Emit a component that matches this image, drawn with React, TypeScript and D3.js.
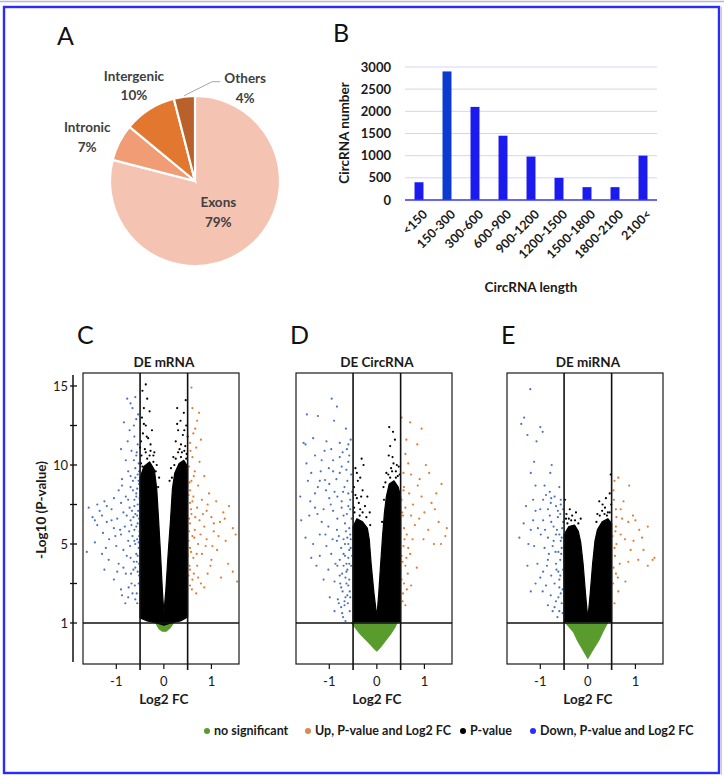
import React from 'react';
import * as d3 from 'd3';

const FONT = 'Lato, "Open Sans", sans-serif';

// ---------- Panel A data ----------
const pieCategories = ['Exons', 'Intronic', 'Intergenic', 'Others'];
const pieValues = [79, 7, 10, 4];
const pieColors = ['#f5c3b1', '#f09c74', '#e2772f', '#b9612a'];

// ---------- Panel B data ----------
const lengthBins = ['<150', '150-300', '300-600', '600-900', '900-1200', '1200-1500', '1500-1800', '1800-2100', '2100<'];
const circCounts = [400, 2900, 2100, 1450, 980, 500, 290, 290, 1000];
const barTicks = [0, 500, 1000, 1500, 2000, 2500, 3000];

// ---------- Volcano axes ----------
const yTickValues = [1, 5, 10, 15];
const yMinorTicks = [3, 7.5, 12.5];
const xTickValues = [-1, 0, 1];

// ---------- Volcano: DE mRNA ----------
const mrnaBlackArea: [number, number][] = [[-0.5, 1.25], [-0.5, 4], [-0.5, 7], [-0.5, 9.2], [-0.42, 9.9], [-0.3, 10.2], [-0.2, 9.7], [-0.15, 8.5], [-0.11, 6.5], [-0.07, 4.5], [-0.03, 2.6], [0, 1.5], [0.04, 2.6], [0.09, 4.5], [0.14, 6.5], [0.18, 8.5], [0.23, 9.5], [0.32, 10.1], [0.42, 10.3], [0.5, 9.9], [0.5, 7], [0.5, 4], [0.5, 1.3], [0.35, 1.1], [0.15, 1.0], [0, 0.95], [-0.15, 1.0], [-0.35, 1.1]];
const mrnaGreenArea: [number, number][] = [[-0.17, 1.0], [-0.1, 0.86], [-0.03, 0.8], [0.05, 0.8], [0.13, 0.88], [0.2, 1.0]];
const mrnaBlackDots: [number, number][] = [[-0.38, 15.1], [-0.45, 14.7], [-0.35, 14.2], [-0.42, 13.6], [-0.3, 13.4], [-0.46, 13.0], [-0.38, 12.5], [-0.25, 12.2], [-0.44, 12.0], [-0.33, 11.7], [-0.48, 11.5], [-0.28, 11.3], [-0.4, 11.0], [-0.2, 10.8], [-0.47, 10.6], [-0.3, 10.6], [-0.15, 10.0], [-0.22, 10.2], [0.28, 13.6], [0.46, 14.1], [0.42, 13.3], [0.35, 12.8], [0.47, 12.5], [0.3, 12.2], [0.4, 11.9], [0.25, 11.5], [0.45, 11.2], [0.33, 11.0], [0.2, 10.5], [0.38, 10.8], [0.48, 10.7], [0.15, 9.8], [0.22, 10.0], [-0.1, 9.2], [0.12, 9.0], [-0.45, 9.9], [-0.38, 10.8], [-0.28, 10.9], [-0.22, 10.6], [-0.17, 9.6], [-0.12, 8.6], [0.17, 9.2], [0.25, 10.4], [0.3, 10.8], [0.43, 10.9], [0.36, 11.3], [-0.5, 11.1], [-0.42, 12.6], [0.5, 11.8], [0.43, 12.2], [-0.36, 11.8], [0.28, 12.6], [-0.48, 10.1], [-0.35, 10.4], [0.47, 10.4], [0.36, 10.5]];
const mrnaDown: [number, number][] = [[-0.77, 14.2], [-0.6, 14.3], [-0.66, 13.6], [-0.84, 12.7], [-0.58, 12.9], [-0.72, 12.2], [-0.62, 11.8], [-0.55, 11.3], [-0.9, 11.0], [-0.68, 10.9], [-0.58, 10.6], [-0.8, 10.3], [-0.53, 10.1], [-0.6, 9.8], [-0.75, 9.6], [-0.55, 9.4], [-0.88, 9.1], [-0.65, 9.0], [-0.52, 8.8], [-0.7, 8.6], [-0.95, 8.4], [-0.58, 8.2], [-0.8, 8.0], [-1.05, 7.9], [-0.62, 7.8], [-0.9, 7.6], [-1.25, 7.7], [-0.55, 7.5], [-1.4, 7.5], [-0.72, 7.3], [-1.58, 7.3], [-1.1, 7.2], [-0.85, 7.0], [-0.6, 6.9], [-1.3, 6.8], [-1.5, 6.7], [-0.98, 6.6], [-0.7, 6.5], [-1.2, 6.4], [-0.55, 6.3], [-1.4, 6.2], [-0.82, 6.1], [-1.05, 6.0], [-0.62, 5.9], [-1.28, 5.7], [-0.9, 5.6], [-0.52, 5.5], [-1.15, 5.3], [-0.75, 5.2], [-1.45, 5.1], [-0.6, 5.0], [-1.0, 4.9], [-1.62, 4.6], [-0.85, 4.7], [-1.3, 4.5], [-0.55, 4.4], [-0.7, 4.3], [-1.16, 4.2], [-0.95, 4.0], [-0.6, 3.8], [-1.25, 3.7], [-0.8, 3.5], [-0.52, 3.4], [-1.05, 3.2], [-0.68, 3.0], [-0.9, 2.7], [-0.57, 2.5], [-0.75, 2.3], [-0.81, 2.0], [-0.6, 2.2], [-0.53, 9.0], [-0.56, 8.5], [-0.51, 7.9], [-0.54, 7.1], [-0.52, 6.6], [-0.58, 6.1], [-0.51, 5.8], [-0.56, 5.3], [-0.53, 4.8], [-0.58, 4.5], [-0.52, 4.0], [-0.55, 3.6], [-0.63, 4.1], [-0.66, 5.5], [-0.64, 6.7], [-0.67, 7.1], [-0.65, 8.4], [-0.6, 9.2], [-0.73, 5.8], [-0.78, 6.8], [-0.69, 3.5], [-0.61, 2.9], [-0.57, 10.8], [-0.63, 10.3], [-0.52, 9.6], [-0.7, 9.3], [-0.58, 8.0], [-0.62, 7.4], [-0.75, 7.8], [-0.56, 6.8], [-0.68, 6.2], [-0.53, 5.1], [-0.62, 5.2], [-0.71, 4.9], [-0.57, 4.1], [-0.64, 3.7], [-0.53, 3.0], [-0.74, 2.8], [-0.56, 2.0], [-0.66, 2.5], [-0.85, 3.8], [-0.78, 4.4], [-0.92, 5.9], [-1.1, 6.5], [-0.88, 8.7], [-0.76, 11.5], [-0.63, 12.5], [-0.54, 13.2], [-0.7, 13.9], [-1.35, 7.1], [-1.2, 7.4], [-1.45, 6.5], [-1.02, 5.5], [-1.22, 4.8], [-0.98, 3.6], [-0.88, 2.4]];
const mrnaUp: [number, number][] = [[0.58, 14.9], [0.74, 13.3], [0.7, 12.8], [0.62, 12.0], [0.55, 11.4], [0.68, 11.1], [0.6, 10.5], [0.75, 10.2], [0.53, 9.9], [0.65, 9.6], [0.85, 9.3], [0.58, 9.0], [0.72, 8.7], [0.55, 8.4], [0.95, 8.2], [0.62, 8.0], [0.8, 7.8], [1.1, 7.7], [0.55, 7.6], [1.37, 7.4], [0.7, 7.3], [0.9, 7.1], [1.25, 7.0], [0.58, 6.9], [1.0, 6.7], [0.75, 6.5], [1.18, 6.4], [0.55, 6.3], [0.85, 6.1], [1.45, 6.0], [0.65, 5.9], [1.05, 5.8], [1.51, 5.6], [0.6, 5.5], [0.9, 5.3], [1.3, 5.2], [0.72, 5.0], [0.55, 4.8], [1.12, 4.7], [0.8, 4.5], [0.62, 4.3], [1.0, 4.2], [1.35, 4.0], [0.7, 3.9], [0.55, 3.7], [0.92, 3.5], [1.54, 3.1], [0.6, 3.2], [0.78, 3.0], [1.2, 3.3], [0.59, 2.7], [0.68, 2.5], [0.85, 2.8], [1.45, 3.6], [0.53, 6.6], [0.52, 5.2], [0.51, 4.4], [0.57, 7.2], [0.54, 8.9], [0.52, 3.4], [0.56, 10.9], [0.63, 9.3], [0.52, 8.1], [0.6, 7.7], [0.66, 6.7], [0.53, 5.8], [0.64, 5.4], [0.57, 4.6], [0.69, 4.5], [0.54, 3.9], [0.63, 3.5], [0.55, 2.9], [0.72, 3.3], [0.77, 5.6], [0.82, 6.9], [0.88, 4.9], [1.05, 6.3], [1.15, 5.5], [0.98, 3.9], [1.28, 6.6], [0.66, 12.3], [0.6, 13.6], [0.78, 11.6], [0.92, 7.5], [1.02, 4.9]];

// ---------- Volcano: DE CircRNA ----------
const circBlackArea: [number, number][] = [[-0.5, 1.05], [-0.5, 4], [-0.5, 6.1], [-0.42, 6.6], [-0.3, 6.4], [-0.2, 6.0], [-0.16, 5.3], [-0.12, 4], [-0.06, 2.5], [0, 1.3], [0.04, 2.5], [0.08, 4], [0.12, 5.5], [0.16, 7], [0.2, 8.0], [0.26, 8.8], [0.36, 9.0], [0.45, 8.6], [0.5, 8.0], [0.5, 5], [0.5, 1.05]];
const circGreenArea: [number, number][] = [[-0.53, 1.0], [-0.36, 0.75], [-0.15, 0.5], [-0.04, 0.36], [0.0, 0.32], [0.08, 0.42], [0.3, 0.75], [0.38, 0.9], [0.42, 1.0]];
const circBlackDots: [number, number][] = [[0.26, 12.4], [0.34, 12.1], [0.28, 11.2], [0.33, 10.5], [-0.32, 10.4], [-0.42, 9.5], [-0.45, 9.8], [-0.35, 9.2], [-0.28, 10.0], [-0.4, 9.0], [-0.48, 8.6], [-0.3, 8.4], [-0.2, 8.0], [-0.42, 7.9], [-0.25, 7.4], [-0.48, 7.3], [-0.35, 7.2], [-0.15, 7.0], [0.42, 10.0], [0.3, 9.8], [0.46, 9.9], [0.2, 9.5], [0.4, 9.6], [0.48, 9.4], [0.14, 8.6], [0.25, 10.6], [0.38, 11.6], [-0.47, 7.0], [-0.38, 7.6], [-0.3, 7.0], [-0.22, 6.7], [-0.45, 8.1], [-0.33, 8.0], [0.18, 8.9], [0.24, 9.4], [0.32, 9.6], [0.44, 9.3], [0.15, 7.8], [0.11, 6.4], [-0.14, 6.2], [0.35, 10.1], [-0.36, 6.8], [0.4, 9.2], [0.28, 9.2]];
const circDown: [number, number][] = [[-0.95, 14.2], [-0.84, 13.7], [-1.47, 13.2], [-1.24, 13.1], [-1.54, 11.4], [-1.5, 11.3], [-1.34, 11.7], [-1.06, 11.5], [-0.78, 11.4], [-0.6, 11.3], [-0.63, 11.0], [-0.78, 10.5], [-0.92, 10.3], [-1.16, 10.3], [-0.74, 9.9], [-1.38, 9.5], [-1.01, 9.8], [-0.92, 9.6], [-0.78, 9.5], [-1.09, 9.05], [-1.2, 9.0], [-0.62, 9.0], [-1.24, 8.6], [-1.07, 8.4], [-0.89, 8.3], [-0.71, 8.3], [-1.61, 8.0], [-1.0, 7.9], [-0.83, 8.0], [-0.6, 8.2], [-1.3, 7.3], [-1.12, 7.2], [-0.92, 7.1], [-0.74, 7.3], [-0.6, 7.4], [-1.59, 6.5], [-1.42, 6.8], [-1.16, 6.4], [-1.02, 6.1], [-0.84, 5.9], [-0.67, 6.3], [-0.56, 5.6], [-1.2, 5.6], [-1.34, 5.0], [-1.06, 4.9], [-0.84, 5.2], [-0.67, 5.0], [-0.96, 4.5], [-1.2, 4.4], [-0.78, 4.2], [-0.64, 4.0], [-1.38, 4.3], [-1.27, 3.9], [-1.02, 3.7], [-0.83, 3.9], [-0.73, 3.5], [-0.62, 3.7], [-1.12, 3.2], [-0.89, 3.1], [-0.75, 2.8], [-0.64, 3.0], [-0.99, 2.3], [-0.82, 2.2], [-0.68, 2.1], [-0.61, 2.0], [-0.75, 1.8], [-0.71, 1.3], [-0.89, 1.6], [-0.55, 5.3], [-0.58, 4.7], [-0.7, 4.5], [-0.6, 4.3], [-0.66, 3.3], [-0.57, 2.6], [-0.72, 2.6], [-0.62, 2.4], [-0.68, 1.9], [-0.57, 1.6], [-0.78, 3.4], [-0.54, 3.9], [-0.75, 4.8], [-0.8, 5.5], [-0.65, 5.8], [-0.53, 6.6], [-0.7, 6.8], [-0.56, 7.8], [-0.68, 8.6], [-0.54, 9.4], [-0.6, 10.2], [-0.72, 10.8], [-0.55, 11.6], [-0.65, 12.3], [-1.45, 9.0], [-1.5, 5.4], [-1.3, 8.2], [-1.1, 10.9], [-0.9, 12.8], [-0.58, 3.2], [-0.66, 2.3], [-0.7, 3.9], [-0.6, 5.0], [-0.52, 4.4], [-0.56, 2.3], [-0.6, 2.9], [-0.64, 3.6], [-0.58, 4.0], [-0.67, 4.4], [-0.55, 4.8], [-0.62, 5.4], [-0.7, 5.3], [-0.58, 6.0], [-0.63, 6.9], [-0.56, 7.2], [-0.74, 7.7], [-0.52, 8.3], [-0.64, 9.7], [-0.58, 10.6], [-0.77, 3.0], [-0.8, 2.0], [-0.73, 1.5], [-0.66, 1.1], [-0.87, 4.0], [-0.93, 5.3], [-1.08, 5.6], [-0.83, 6.6], [-0.97, 7.5], [-1.25, 6.9], [-1.4, 7.7], [-1.0, 8.8], [-1.18, 9.6], [-0.85, 9.1], [-1.3, 10.6], [-1.48, 10.1], [-0.96, 11.0]];
const circUp: [number, number][] = [[0.52, 13.0], [0.94, 12.3], [0.85, 11.3], [0.6, 10.7], [0.66, 10.1], [1.03, 10.0], [1.1, 9.5], [0.72, 9.4], [0.57, 8.6], [1.36, 8.8], [0.86, 8.7], [0.52, 7.8], [0.68, 8.2], [0.94, 8.0], [1.15, 7.6], [0.6, 7.3], [0.72, 6.8], [0.89, 6.6], [1.22, 7.2], [1.47, 6.0], [1.08, 5.9], [0.63, 5.6], [1.44, 5.5], [1.2, 5.0], [1.35, 5.0], [0.98, 5.3], [0.56, 4.9], [0.66, 4.8], [0.52, 4.4], [0.6, 3.9], [0.84, 3.8], [0.72, 2.9], [0.63, 2.7], [0.55, 2.5], [0.6, 1.9], [0.52, 3.2], [0.56, 9.5], [0.56, 8.4], [0.57, 6.0], [0.55, 6.8], [0.62, 4.3], [0.75, 5.3], [0.53, 7.0], [0.58, 5.3], [0.54, 4.1], [0.65, 3.5], [0.57, 3.0], [0.7, 4.5], [0.8, 6.2], [0.76, 7.5], [0.9, 9.1], [1.25, 8.2], [1.3, 6.4], [1.0, 7.0], [0.62, 11.6], [0.7, 12.7], [0.54, 2.1]];

// ---------- Volcano: DE miRNA ----------
const mirBlackArea: [number, number][] = [[-0.5, 1.05], [-0.5, 4], [-0.5, 5.6], [-0.4, 6.1], [-0.28, 6.2], [-0.2, 5.8], [-0.15, 5.1], [-0.1, 4], [-0.05, 2.5], [0, 1.2], [0.05, 2.5], [0.1, 4], [0.15, 5.2], [0.2, 5.9], [0.3, 6.4], [0.42, 6.6], [0.5, 6.3], [0.5, 4], [0.5, 1.05]];
const mirGreenArea: [number, number][] = [[-0.46, 1.0], [-0.3, 0.78], [-0.22, 0.58], [-0.08, 0.3], [0.0, 0.14], [0.08, 0.3], [0.23, 0.58], [0.32, 0.8], [0.41, 1.0]];
const mirBlackDots: [number, number][] = [[-0.25, 7.0], [-0.43, 6.3], [0.24, 7.7], [0.31, 7.5], [0.36, 7.3], [0.48, 9.4], [-0.33, 6.8], [-0.15, 6.6], [0.42, 7.0], [0.2, 6.9], [-0.48, 7.8], [0.46, 8.2], [-0.38, 7.2], [-0.45, 6.9], [0.38, 7.9], [-0.46, 6.6], [-0.35, 6.5], [-0.27, 6.5], [-0.2, 6.3], [0.18, 6.4], [0.25, 6.8], [0.35, 6.9], [0.46, 7.0], [0.49, 7.5], [0.3, 7.1], [-0.4, 6.6], [0.4, 6.8]];
const mirDown: [number, number][] = [[-1.21, 14.8], [-1.34, 13.0], [-1.4, 12.6], [-1.0, 12.4], [-0.95, 12.1], [-1.27, 11.9], [-1.08, 11.5], [-1.13, 10.2], [-0.76, 10.0], [-1.2, 9.5], [-0.79, 9.5], [-0.91, 8.7], [-1.1, 8.7], [-0.94, 7.8], [-0.77, 7.9], [-1.3, 7.4], [-1.1, 7.1], [-0.84, 7.2], [-0.67, 7.4], [-0.57, 7.8], [-1.44, 5.4], [-0.94, 6.5], [-0.77, 6.4], [-0.63, 6.7], [-1.2, 5.9], [-0.99, 5.6], [-0.84, 5.4], [-0.67, 5.6], [-0.57, 5.2], [-1.13, 4.9], [-0.91, 4.8], [-0.74, 4.9], [-1.27, 3.9], [-1.06, 4.0], [-0.84, 4.2], [-0.67, 4.0], [-0.94, 3.6], [-0.77, 3.4], [-0.6, 3.2], [-1.2, 2.6], [-0.84, 1.9], [-0.67, 2.1], [-0.57, 2.5], [-0.64, 1.3], [-0.74, 1.6], [-1.1, 3.0], [-0.88, 2.9], [-0.54, 6.0], [-0.56, 4.5], [-0.52, 3.7], [-0.6, 2.8], [-0.55, 2.0], [-0.53, 1.5], [-0.62, 4.6], [-0.7, 3.0], [-0.58, 6.9], [-0.65, 5.9], [-0.52, 7.2], [-0.7, 8.0], [-0.6, 8.6], [-0.8, 8.3], [-0.72, 6.1], [-0.82, 4.5], [-0.78, 2.4], [-1.0, 3.3], [-1.05, 6.0], [-1.35, 6.3], [-1.15, 7.8], [-0.55, 5.4], [-0.62, 3.6], [-0.58, 4.2], [-0.53, 2.7], [-0.58, 3.4], [-0.55, 4.8], [-0.6, 5.6], [-0.52, 6.4], [-0.63, 7.1], [-0.68, 4.6], [-0.72, 5.2], [-0.66, 3.7], [-0.62, 2.3], [-0.7, 1.8], [-0.86, 3.9], [-0.9, 5.9], [-1.0, 7.2], [-1.15, 6.5], [-1.25, 5.0], [-0.95, 2.6], [-0.8, 6.8], [-0.57, 7.5], [-0.6, 1.6], [-0.78, 7.6], [-0.88, 8.1]];
const mirUp: [number, number][] = [[0.64, 9.2], [0.87, 8.7], [0.56, 9.0], [0.59, 7.2], [0.69, 7.2], [0.95, 6.8], [1.0, 6.5], [0.85, 6.4], [1.08, 5.9], [1.26, 6.1], [0.69, 5.6], [0.59, 6.1], [1.17, 4.7], [1.36, 4.2], [1.26, 3.9], [1.06, 4.2], [0.85, 4.1], [0.67, 4.0], [0.59, 3.5], [0.64, 2.6], [0.79, 3.1], [0.56, 2.0], [0.57, 4.4], [0.96, 5.2], [0.56, 4.8], [0.6, 6.7], [0.55, 7.8], [1.4, 4.3], [0.52, 5.5], [0.53, 3.0], [0.54, 8.4], [0.6, 5.0], [0.72, 6.6], [0.78, 5.3], [0.63, 3.3], [0.54, 3.8], [0.9, 4.7], [1.14, 5.4], [0.75, 7.7], [0.58, 5.8]];

// ---------- Legend ----------
const legendLabels = ['no significant', 'Up, P-value and Log2 FC', 'P-value', 'Down, P-value and Log2 FC'];
const legendColors = ['#5a9b2e', '#d98a4e', '#000000', '#2b2bff'];

// layout (not data)
const W = 724, H = 778;
const FRAME_TOP = 373, FRAME_H = 291, FRAME_W = 156;
const panels = [
  { letter: 'C', title: 'DE mRNA', left: 83, black: mrnaBlackArea, green: mrnaGreenArea, blackDots: mrnaBlackDots, down: mrnaDown, up: mrnaUp, yAxis: true },
  { letter: 'D', title: 'DE CircRNA', left: 296, black: circBlackArea, green: circGreenArea, blackDots: circBlackDots, down: circDown, up: circUp, yAxis: false },
  { letter: 'E', title: 'DE miRNA', left: 507, black: mirBlackArea, green: mirGreenArea, blackDots: mirBlackDots, down: mirDown, up: mirUp, yAxis: false },
];
const legendX = [207, 308, 463, 533];
const pieLabelR = [38, 112, 114, 0];
const pieLabelShift: [number, number][] = [[0, 0], [-8, 6], [0, 0], [0, 0]];

function PiePanel() {
  const cx = 195, cy = 181, r = 85;
  const pie = d3.pie<number>().sort(null).value((d) => d);
  const arcs = pie(pieValues);
  const arc = d3.arc<d3.PieArcDatum<number>>().innerRadius(0).outerRadius(r);
  const polar = (a: number, rr: number): [number, number] => [Math.sin(a) * rr, -Math.cos(a) * rr];
  return (
    <g>
      <text x={57} y={45} fontFamily={FONT} fontSize={25} fill="#111">A</text>
      <g transform={`translate(${cx},${cy})`}>
        {arcs.map((a, i) => (
          <path key={i} d={arc(a) || ''} fill={pieColors[i]} stroke="#fff" strokeWidth={2.2} />
        ))}
        {arcs.map((a, i) => {
          const mid = (a.startAngle + a.endAngle) / 2;
          if (i === 3) {
            const s = polar(mid, r + 1);
            const e1: [number, number] = [s[0] + 28, s[1] - 14];
            const e2: [number, number] = [e1[0] + 8, e1[1]];
            const tx = e2[0] + 25;
            return (
              <g key={i}>
                <polyline points={`${s[0]},${s[1]} ${e1[0]},${e1[1]} ${e2[0]},${e2[1]}`} fill="none" stroke="#a6a6a6" strokeWidth={1} />
                <text x={tx} y={e2[1]} textAnchor="middle" fontFamily={FONT} fontWeight={700} fontSize={13.5} fill="#404040">
                  <tspan x={tx} dy="0.1em">{pieCategories[i]}</tspan>
                  <tspan x={tx} dy="1.45em">{pieValues[i]}%</tspan>
                </text>
              </g>
            );
          }
          const p = polar(mid, pieLabelR[i]);
          const lx = p[0] + pieLabelShift[i][0];
          const ly = p[1] + pieLabelShift[i][1];
          return (
            <text key={i} x={lx} y={ly} textAnchor="middle" fontFamily={FONT} fontWeight={700} fontSize={13.5} fill="#404040">
              <tspan x={lx} dy="-0.3em">{pieCategories[i]}</tspan>
              <tspan x={lx} dy="1.45em">{pieValues[i]}%</tspan>
            </text>
          );
        })}
      </g>
    </g>
  );
}

function BarPanel() {
  const x = d3.scaleBand<string>().domain(lengthBins).range([405, 657]).paddingInner(0.68).paddingOuter(0.34);
  const y = d3.scaleLinear().domain([0, 3000]).range([200, 67]);
  return (
    <g fontFamily={FONT}>
      <text x={333} y={42} fontSize={25} fill="#111">B</text>
      {barTicks.filter((t) => t > 0).map((t) => (
        <line key={t} x1={405} x2={657} y1={y(t)} y2={y(t)} stroke="#d4d4f4" strokeWidth={1} />
      ))}
      {lengthBins.map((b, i) => (
        <rect key={b} x={x(b)} y={y(circCounts[i])} width={x.bandwidth()} height={y(0) - y(circCounts[i])} fill={i === 1 ? '#0c3bd2' : '#1b1bf0'} />
      ))}
      <line x1={405} x2={657} y1={y(0)} y2={y(0)} stroke="#3535f5" strokeWidth={1.5} />
      {barTicks.map((t) => (
        <text key={t} x={391} y={y(t)} dy="0.35em" textAnchor="end" fontSize={13} fontWeight={700} fill="#1a1a1a">{t}</text>
      ))}
      {lengthBins.map((b) => {
        const cxb = (x(b) || 0) + x.bandwidth() / 2;
        return (
          <text key={b} transform={`translate(${cxb + 6},${y(0) + 12}) rotate(-45)`} textAnchor="end" dy="0.35em" fontSize={12.5} fontWeight={700} fill="#1a1a1a">{b}</text>
        );
      })}
      <text transform="translate(349,133) rotate(-90)" textAnchor="middle" fontSize={13.5} fontWeight={700} fill="#1a1a1a">CircRNA number</text>
      <text x={531} y={292} textAnchor="middle" fontSize={13.5} fontWeight={700} fill="#1a1a1a">CircRNA length</text>
    </g>
  );
}

function Volcano({ p }: { p: typeof panels[number] }) {
  const x = d3.scaleLinear().domain([-1.7, 1.58]).range([0, FRAME_W]);
  const y = d3.scaleLinear().domain([0, 1, 5, 15]).range([FRAME_H, 250, 171, 13]);
  const area = d3.line<[number, number]>().x((d) => x(d[0])).y((d) => y(d[1])).curve(d3.curveLinearClosed);
  const dot = (d: [number, number], i: number, color: string) => (
    <circle key={i} cx={x(d[0])} cy={y(d[1])} r={1.1} fill={color} />
  );
  return (
    <g fontFamily={FONT}>
      <text x={p.left - 6} y={FRAME_TOP - 29} fontSize={25} fill="#111">{p.letter}</text>
      <text x={p.left + x(0)} y={FRAME_TOP - 6} textAnchor="middle" fontSize={13.5} fontWeight={700} fill="#1a1a1a">{p.title}</text>
      <g transform={`translate(${p.left},${FRAME_TOP})`}>
        <path d={area(p.green) || ''} fill="#5a9b2e" stroke="#5a9b2e" strokeWidth={1.2} />
        <path d={area(p.black) || ''} fill="#000" stroke="#000" strokeWidth={1.2} strokeLinejoin="round" />
        {p.blackDots.map((d, i) => dot(d, i, '#000'))}
        {p.down.map((d, i) => dot(d, i, '#4a72c4'))}
        {p.up.map((d, i) => dot(d, i, '#e4782f'))}
        <rect x={0} y={0} width={FRAME_W} height={FRAME_H} fill="none" stroke="#1a1a1a" strokeWidth={1.2} />
        <line x1={0} x2={FRAME_W} y1={y(1)} y2={y(1)} stroke="#111" strokeWidth={1.4} />
        {[-0.5, 0.5].map((v) => (
          <line key={v} x1={x(v)} x2={x(v)} y1={0} y2={FRAME_H + 6} stroke="#111" strokeWidth={1.6} />
        ))}
        {xTickValues.map((v) => (
          <g key={v}>
            <line x1={x(v)} x2={x(v)} y1={FRAME_H} y2={FRAME_H + 5} stroke="#111" strokeWidth={1.2} />
            <text x={x(v)} y={FRAME_H + 22} textAnchor="middle" fontSize={13} fill="#1a1a1a">{v}</text>
          </g>
        ))}
        <text x={x(0)} y={FRAME_H + 40} textAnchor="middle" fontSize={13.5} fontWeight={700} fill="#1a1a1a">Log2 FC</text>
        {p.yAxis && (
          <g transform="translate(-10,0)">
            <line x1={0} x2={0} y1={2} y2={FRAME_H - 2} stroke="#111" strokeWidth={1.5} />
            {yTickValues.map((v) => (
              <g key={v}>
                <line x1={-3} x2={4} y1={y(v)} y2={y(v)} stroke="#111" strokeWidth={1.3} />
                <text x={-5} y={y(v)} dy="0.35em" textAnchor="end" fontSize={13} fill="#1a1a1a">{v}</text>
              </g>
            ))}
            {yMinorTicks.map((v) => (
              <line key={v} x1={-3} x2={4} y1={y(v)} y2={y(v)} stroke="#111" strokeWidth={1.3} />
            ))}
            <text transform={`translate(-27,${y(5) - 34}) rotate(-90)`} textAnchor="middle" fontSize={13.5} fontWeight={700} fill="#1a1a1a">-Log10 (P-value)</text>
          </g>
        )}
      </g>
    </g>
  );
}

function Legend() {
  return (
    <g fontFamily={FONT}>
      {legendLabels.map((l, i) => (
        <g key={l}>
          <circle cx={legendX[i]} cy={731} r={3} fill={legendColors[i]} />
          <text x={legendX[i] + 7} y={731} dy="0.35em" fontSize={12.5} fontWeight={700} fill="#1a1a1a">{l}</text>
        </g>
      ))}
    </g>
  );
}

export default function App() {
  return (
    <svg width={W} height={H} style={{ position: 'absolute', left: 0, top: 0, background: '#fff' }}>
      <rect x={0} y={0} width={W} height={H} fill="#fff" />
      <line x1={0} x2={W} y1={1.5} y2={1.5} stroke="#b4b4d6" strokeWidth={1.5} />
      <line x1={721.5} x2={721.5} y1={7} y2={775} stroke="#c8c8e4" strokeWidth={1} />
      <rect x={4} y={7} width={715} height={766} fill="none" stroke="#2b2bff" strokeWidth={2.4} />
      <PiePanel />
      <BarPanel />
      {panels.map((p) => <Volcano key={p.letter} p={p} />)}
      <Legend />
    </svg>
  );
}
